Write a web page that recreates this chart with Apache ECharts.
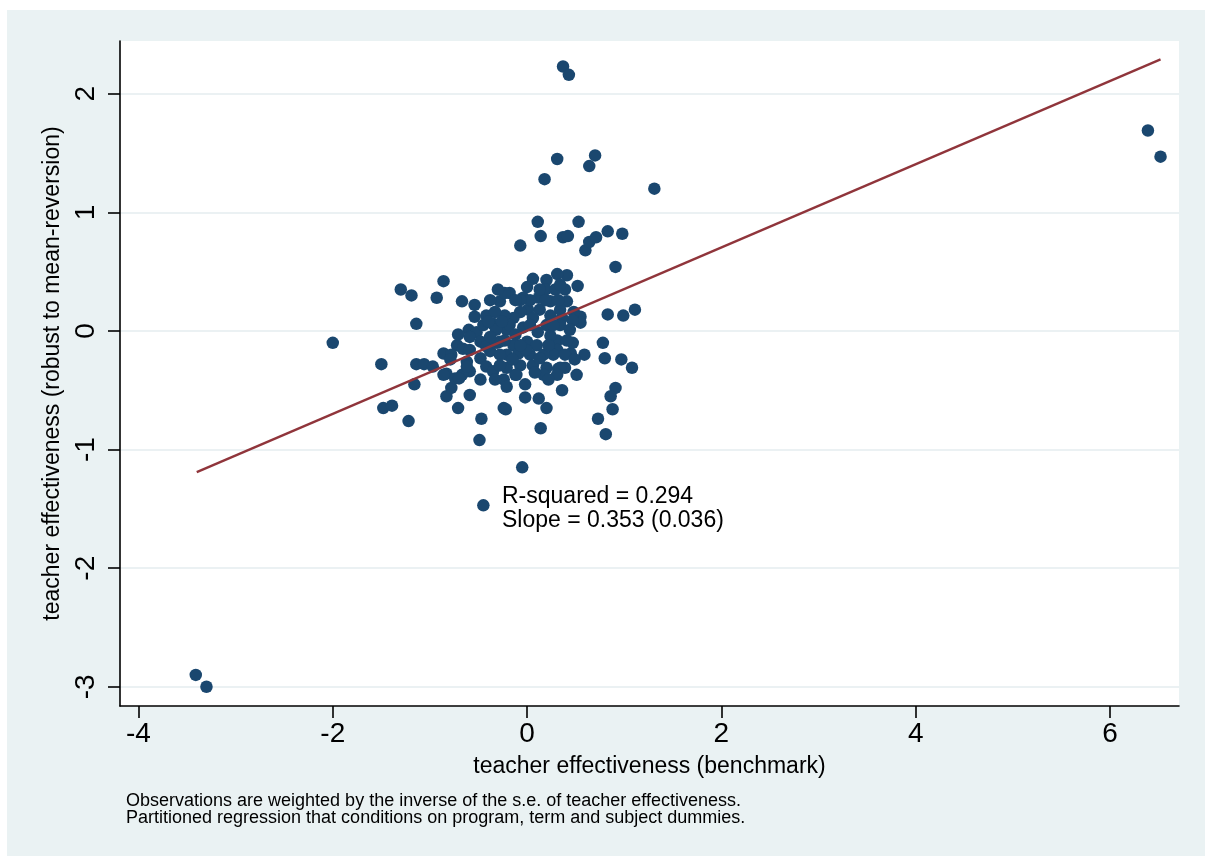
<!DOCTYPE html>
<html>
<head>
<meta charset="utf-8">
<script src="https://cdn.jsdelivr.net/npm/echarts@6/dist/echarts.min.js"></script>
<style>
html,body{margin:0;padding:0;background:#ffffff;}
#chart{position:absolute;left:7px;top:10px;width:1198px;height:846px;}
</style>
</head>
<body>
<div id="chart"></div>
<script>
// teacher effectiveness (benchmark) -- x values
var benchmarkX = [
  0.37,0.43,6.39,6.52,-3.41,-3.30,-2.00,-0.45,-0.05,
  0.31,0.70,0.64,0.18,1.31,0.11,0.53,-0.07,0.14,0.37,0.42,0.60,0.64,0.71,0.83,0.98,0.91,
  0.83,0.99,1.11,0.55,0.55,0.78,0.59,0.80,0.97,1.08,0.51,
  0.45,0.47,0.31,0.31,0.27,0.39,0.32,0.48,0.47,0.36,0.41,0.34,0.52,0.41,0.31,0.20,0.06,0.00,0.19,0.24,0.12,-0.04,-0.18,0.01,0.13,-0.07,0.06,-0.14,-0.23,0.20,-0.21,-0.28,-0.14,0.00,0.10,0.17,0.03,-0.09,-0.21,0.06,-0.07,-0.21,-0.12,0.20,0.34,
  -0.86,-1.30,-1.19,-0.93,-0.67,-1.14,-1.50,-1.14,-1.06,-0.97,-0.86,-0.72,-0.54,-0.42,-0.33,-0.28,-0.23,-0.60,-0.52,-0.59,-0.48,-0.66,-0.78,-0.79,-0.62,-0.48,-0.38,-0.31,-0.42,-0.59,-0.67,-0.83,-0.35,-0.28,-0.45,-0.35,-0.42,
  -1.48,-1.39,-1.22,-1.16,-0.83,-0.78,-0.71,-0.59,-0.74,-0.86,-0.47,-0.49,-0.24,-0.22,-0.24,-0.21,-0.11,-0.02,0.12,0.20,0.14,0.36,0.73,0.81,0.91,0.86,0.88,0.17,0.31,
  -0.18,-0.04,0.11,0.24,-0.01,0.13,-0.32,-0.38,0.03,0.24,-0.26,-0.70,-0.62,-0.07,0.29,0.39,0.34,0.41,-0.15,
  -0.30,-0.12,0.19,0.32,-0.40,-0.23,-0.07,0.22,0.08,0.22,-0.02,-0.59,-0.71,-0.54,-0.38,0.34,0.44,0.27,-0.28,0.03,-0.12,0.13,0.39,-0.33,-0.48,0.49
];
// teacher effectiveness (robust to mean-reversion) -- y values
var robustY = [
  2.23,2.16,1.69,1.47,-2.90,-3.00,-0.10,-1.47,-1.15,
  1.45,1.48,1.39,1.28,1.20,0.92,0.92,0.72,0.80,0.79,0.80,0.68,0.75,0.79,0.84,0.82,0.54,
  0.14,0.13,0.18,0.12,0.07,-0.10,-0.20,-0.23,-0.24,-0.31,-0.37,
  -0.19,-0.10,-0.08,-0.16,-0.20,-0.31,-0.32,0.16,0.09,0.11,0.25,0.18,0.38,0.47,0.48,0.43,0.44,0.37,0.35,0.25,0.28,0.28,0.32,0.18,0.18,0.16,0.11,0.11,0.13,0.05,0.01,-0.09,-0.12,-0.09,-0.12,-0.20,-0.20,-0.19,-0.20,-0.29,-0.29,-0.31,-0.37,-0.31,-0.31,
  0.42,0.35,0.30,0.28,0.25,0.06,-0.28,-0.28,-0.28,-0.30,-0.19,-0.12,0.12,0.13,0.16,0.25,0.32,0.01,-0.01,-0.05,-0.09,-0.15,-0.20,-0.24,-0.26,-0.23,-0.17,-0.10,-0.30,-0.34,-0.37,-0.36,-0.34,-0.29,0.05,0.06,-0.13,
  -0.65,-0.63,-0.76,-0.45,-0.55,-0.48,-0.65,-0.54,-0.40,-0.37,-0.74,-0.92,-0.65,-0.66,-0.41,-0.47,-0.37,-0.56,-0.57,-0.65,-0.82,-0.50,-0.74,-0.87,-0.48,-0.55,-0.66,-0.37,-0.37,
  0.05,0.03,-0.01,-0.04,-0.16,-0.23,0.01,-0.05,0.26,0.13,0.08,-0.40,-0.30,0.26,0.35,0.35,0.05,-0.08,-0.24,
  0.35,0.26,0.26,0.26,0.08,-0.08,-0.12,-0.12,-0.35,-0.41,-0.45,-0.16,-0.03,0.22,0.26,0.39,0.01,0.05,-0.20,0.05,-0.03,0.35,-0.20,-0.41,-0.41,-0.24
];
// fitted regression line endpoints
var fitX = [-3.40, 6.52];
var fitY = [-1.19, 2.29];
// tick labels
var xTicks = [-4, -2, 0, 2, 4, 6];
var yTicks = [-3, -2, -1, 0, 1, 2];
var xRange = [-4.19, 6.71];
var yRange = [-3.162, 2.445];
var xTitle = 'teacher effectiveness (benchmark)';
var yTitle = 'teacher effectiveness (robust to mean-reversion)';
var statsLines = ['R-squared = 0.294', 'Slope = 0.353 (0.036)'];
var noteLines = [
  'Observations are weighted by the inverse of the s.e. of teacher effectiveness.',
  'Partitioned regression that conditions on program, term and subject dummies.'
];

var FONT = "'Liberation Sans', Arial, Helvetica, sans-serif";
var points = benchmarkX.map(function (x, i) { return [x, robustY[i]]; });
var fitData = fitX.map(function (x, i) { return [x, fitY[i]]; });

var chart = echarts.init(document.getElementById('chart'), null, {renderer: 'canvas'});
chart.setOption({
  animation: false,
  backgroundColor: '#EAF2F3',
  grid: {
    left: 113, top: 31, width: 1059, height: 665,
    show: true, backgroundColor: '#ffffff', borderWidth: 0
  },
  xAxis: {
    type: 'value', min: xRange[0], max: xRange[1],
    name: xTitle, nameLocation: 'middle', nameGap: 49,
    nameTextStyle: {fontFamily: FONT, fontSize: 23, color: '#000'},
    axisLine: {onZero: false, lineStyle: {color: '#000', width: 1.6}},
    axisTick: {show: true, inside: false, length: 12, customValues: xTicks, lineStyle: {color: '#000', width: 1.6}},
    axisLabel: {customValues: xTicks, fontFamily: FONT, fontSize: 28, color: '#000', margin: 14},
    splitLine: {show: false}
  },
  yAxis: {
    type: 'value', min: yRange[0], max: yRange[1],
    name: yTitle, nameLocation: 'middle', nameGap: 50,
    nameTextStyle: {fontFamily: FONT, fontSize: 23, color: '#000'},
    axisLine: {onZero: false, lineStyle: {color: '#000', width: 1.6}},
    axisTick: {show: true, inside: false, length: 12, customValues: yTicks, lineStyle: {color: '#000', width: 1.6}},
    axisLabel: {customValues: yTicks, rotate: 90, fontFamily: FONT, fontSize: 28, color: '#000', margin: 20},
    splitLine: {show: true, lineStyle: {color: '#E4EDEF', width: 1.5}}
  },
  series: [
    {
      type: 'scatter', data: points, symbol: 'circle', symbolSize: 12.5,
      itemStyle: {color: '#1A476F', opacity: 1}, z: 3, silent: true
    },
    {
      type: 'line', data: fitData, symbol: 'none', z: 4, silent: true,
      lineStyle: {color: '#90353B', width: 2.4}
    }
  ],
  graphic: [
    {
      type: 'text', left: 495, top: 475, silent: true,
      style: {text: statsLines.join('\n'), font: '23px ' + FONT, fill: '#000', lineHeight: 24}
    },
    {
      type: 'text', left: 119, top: 782, silent: true,
      style: {text: noteLines.join('\n'), font: '18px ' + FONT, fill: '#000', lineHeight: 17.5}
    }
  ]
});
</script>
</body>
</html>
